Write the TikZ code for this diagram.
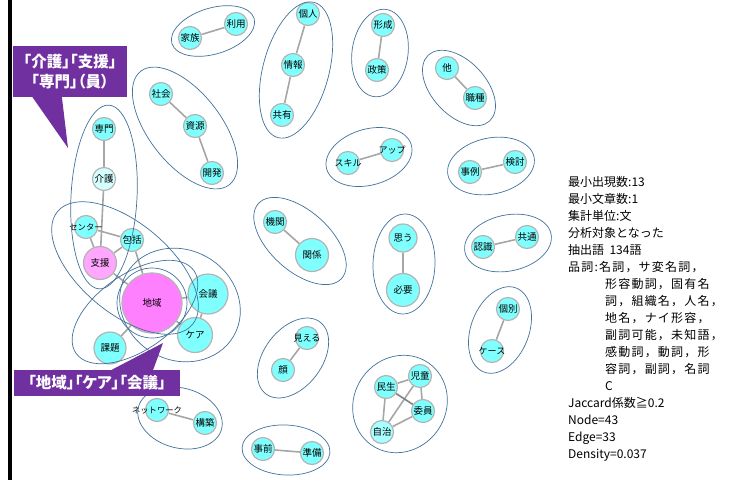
\documentclass[tikz,border=0pt]{standalone}
\usepackage{fontspec}
\setmainfont{Noto Sans CJK JP}
\usepackage{tikz}
\usetikzlibrary{shapes,backgrounds,arrows.meta,positioning,calc}
\usepackage{xcolor}
\definecolor{kwcyan}{HTML}{80FFFF}
\definecolor{kwpale}{HTML}{D4FFFF}
\definecolor{kwlight}{HTML}{A8FFFF}
\definecolor{kwpink}{HTML}{FF80FF}
\definecolor{kwrose}{HTML}{FFA6FF}
\definecolor{rimgray}{HTML}{B4B4B4}
\definecolor{linkgray}{HTML}{A6A6A6}
\definecolor{ringblue}{HTML}{41719C}
\definecolor{notepurple}{HTML}{7030A0}

\begin{document}
\begin{tikzpicture}[x=1pt,y=-1pt,
  kw/.style={circle, draw=rimgray, line width=1.2pt, fill=kwcyan, inner sep=0pt,
    minimum size=23pt, font=\fontsize{9.5}{9.5}\selectfont,
    execute at begin node={\hbox to 0pt\bgroup\hss}, execute at end node={\hss\egroup}},
  link/.style={draw=linkgray, line width=1.6pt},
  ring/.style={draw=ringblue, line width=0.7pt},
  note/.style={fill=notepurple, text=white, inner sep=0pt, align=center,
    font=\bfseries\fontsize{15.5}{20}\selectfont\addfontfeatures{RawFeature=+palt}}]
  \useasboundingbox (0,0) rectangle (731,480);
  \draw[line width=3.5pt] (10,0) -- (10,480);

  % keywords
  \node[kw] (kazoku) at (190,38) {家族};
  \node[kw] (riyou) at (236,24) {利用};
  \node[kw] (shakai) at (161,94) {社会};
  \node[kw] (shigen) at (195,126) {資源};
  \node[kw] (kaihatsu) at (212,173) {開発};
  \node[kw] (kojin) at (308,14) {個人};
  \node[kw] (jouhou) at (293,65) {情報};
  \node[kw] (kyouyuu) at (282,115) {共有};
  \node[kw] (keisei) at (383,25) {形成};
  \node[kw] (seisaku) at (377,70) {政策};
  \node[kw] (hoka) at (447,68) {他};
  \node[kw] (shokushu) at (475,98) {職種};
  \node[kw, font=\fontsize{9}{9}\selectfont] (skill) at (348,163) {スキル};
  \node[kw, font=\fontsize{9}{9}\selectfont] (up) at (392,150) {アップ};
  \node[kw] (jirei) at (470,172) {事例};
  \node[kw] (kentou) at (515,162) {検討};
  \node[kw] (kikan) at (275,222) {機関};
  \node[kw, minimum size=33pt] (kankei) at (312,255) {関係};
  \node[kw, minimum size=28pt] (omou) at (403,238) {思う};
  \node[kw, minimum size=33pt] (hitsuyou) at (403,290) {必要};
  \node[kw] (ninshiki) at (483,247) {認識};
  \node[kw] (kyoutsuu) at (527,237) {共通};
  \node[kw] (kobetsu) at (508,309) {個別};
  \node[kw, font=\fontsize{9}{9}\selectfont] (case) at (492,351) {ケース};
  \node[kw, font=\fontsize{9}{9}\selectfont] (mieru) at (307,338) {見える};
  \node[kw] (kao) at (283,370) {顔};
  \node[kw] (minsei) at (386,387) {民生};
  \node[kw] (jidou) at (420,376) {児童};
  \node[kw] (iin) at (423,411) {委員};
  \node[kw, fill=kwlight] (jichi) at (382,432) {自治};
  \node[kw] (jizen) at (263,449) {事前};
  \node[kw] (junbi) at (312,453) {準備};
  \node[kw, font=\fontsize{8.3}{8.3}\selectfont] (network) at (157,410) {ネットワーク};
  \node[kw] (kouchiku) at (205,423) {構築};
  \node[kw] (senmon) at (104,129) {専門};
  \node[kw, fill=kwpale] (kaigo) at (104,179) {介護};
  \node[kw, font=\fontsize{8.3}{8.3}\selectfont] (center) at (86,227) {センター};
  \node[kw] (houkatsu) at (132,240) {包括};
  \node[kw, fill=kwrose, minimum size=33pt] (shien) at (100,263) {支援};
  \node[kw, fill=kwpink, minimum size=60pt] (chiiki) at (152,303) {地域};
  \node[kw, minimum size=40pt] (kaigi) at (208,294) {会議};
  \node[kw, minimum size=35pt] (care) at (195,335) {ケア};
  \node[kw, minimum size=32pt] (kadai) at (110,348) {課題};

  % co-occurrence edges
  \begin{pgfonlayer}{background}
    \draw[link] (kazoku) -- (riyou) (shakai) -- (shigen) (shigen) -- (kaihatsu)
      (kojin) -- (jouhou) (jouhou) -- (kyouyuu) (keisei) -- (seisaku)
      (hoka) -- (shokushu) (skill) -- (up) (jirei) -- (kentou)
      (kikan) -- (kankei) (omou) -- (hitsuyou) (ninshiki) -- (kyoutsuu)
      (kobetsu) -- (case) (mieru) -- (kao) (jizen) -- (junbi)
      (network) -- (kouchiku);
    \draw[link] (minsei) -- (jidou) (minsei) -- (jichi) (jidou) -- (iin)
      (jidou) -- (jichi) (iin) -- (jichi);
    \draw[link, draw=gray] (minsei) -- (iin);
    \draw[link] (senmon) -- (kaigo) (kaigo) -- (shien) (center) -- (houkatsu)
      (center) -- (shien) (houkatsu) -- (shien) (houkatsu) -- (chiiki)
      (shien) -- (chiiki) (chiiki) -- (kaigi) (chiiki) -- (care)
      (chiiki) -- (kadai) (kaigi) -- (care);
  \end{pgfonlayer}

  % groups
  \draw[ring, rotate around={17:(213,31)}] (213,31) ellipse [x radius=43, y radius=23];
  \draw[ring, rotate around={-52:(185,128)}] (185,128) ellipse [x radius=72, y radius=36];
  \draw[ring, rotate around={75:(296,70)}] (296,70) ellipse [x radius=70, y radius=33];
  \draw[ring, rotate around={82:(380,53)}] (380,53) ellipse [x radius=44, y radius=28];
  \draw[ring, rotate around={-47:(459,88)}] (459,88) ellipse [x radius=45, y radius=27];
  \draw[ring, rotate around={16:(369,157)}] (369,157) ellipse [x radius=44, y radius=28];
  \draw[ring, rotate around={12:(491,166)}] (491,166) ellipse [x radius=44, y radius=28];
  \draw[ring, rotate around={-42:(300,241)}] (300,241) ellipse [x radius=56, y radius=30];
  \draw[ring, rotate around={88:(404,264)}] (404,264) ellipse [x radius=50, y radius=31];
  \draw[ring, rotate around={12:(508,243)}] (508,243) ellipse [x radius=44, y radius=28];
  \draw[ring, rotate around={69:(500,330)}] (500,330) ellipse [x radius=45, y radius=29];
  \draw[ring, rotate around={53:(293,358)}] (293,358) ellipse [x radius=45, y radius=29];
  \draw[ring, rotate around={55:(400,404)}] (400,404) ellipse [x radius=50, y radius=46];
  \draw[ring, rotate around={-3:(286,450)}] (286,450) ellipse [x radius=44, y radius=25];
  \draw[ring, rotate around={-15:(180,418)}] (180,418) ellipse [x radius=43, y radius=30];
  \draw[ring, rotate around={87:(104,197)}] (104,197) ellipse [x radius=92, y radius=33];
  \draw[ring] (chiiki.center) circle [radius=35];
  \draw[ring, rotate around={-40:(125,268)}] (125,268) ellipse [x radius=88, y radius=45];
  \draw[ring, rotate around={-30:(180,305)}] (180,305) ellipse [x radius=62, y radius=55];
  \draw[ring, rotate around={35:(135,312)}] (135,312) ellipse [x radius=72, y radius=38];

  % callouts
  \node[note, minimum width=114pt, minimum height=51pt] (noteA) at (70,71.5) {「介護」「支援」\\「専門」（員）};
  \coordinate (tipA) at (68,148);
  \fill[notepurple] ($(noteA.south west)+(19,-1)$) -- (tipA) -- ($(noteA.south west)+(49,-1)$) -- cycle;
  \node[note, minimum width=166pt, minimum height=26pt] (noteB) at (97,383) {「地域」「ケア」「会議」};
  \coordinate (tipB) at (163,343);
  \fill[notepurple] ($(noteB.north west)+(96,1)$) -- (tipB) -- ($(noteB.north west)+(139,1)$) -- cycle;

  % settings
  \node[anchor=north west, align=left, inner sep=0pt, font=\fontsize{12}{17}\selectfont] (stats) at (568,176) {%
    最小出現数:13\\
    最小文章数:1\\
    集計単位:文\\
    分析対象となった\\
    抽出語\ \ 134語\\
    {\addfontfeatures{LetterSpace=10}品詞:名詞，サ変名詞，}\\
    \hspace*{37pt}{\addfontfeatures{LetterSpace=10}形容動詞，固有名}\\
    \hspace*{37pt}{\addfontfeatures{LetterSpace=10}詞，組織名，人名，}\\
    \hspace*{37pt}{\addfontfeatures{LetterSpace=10}地名，ナイ形容，}\\
    \hspace*{37pt}{\addfontfeatures{LetterSpace=10}副詞可能，未知語，}\\
    \hspace*{37pt}{\addfontfeatures{LetterSpace=10}感動詞，動詞，形}\\
    \hspace*{37pt}{\addfontfeatures{LetterSpace=10}容詞，副詞，名詞}\\
    \hspace*{37pt}C\\
    Jaccard係数≧0.2\\
    Node=43\\
    Edge=33\\
    Density=0.037};
\end{tikzpicture}
\end{document}
